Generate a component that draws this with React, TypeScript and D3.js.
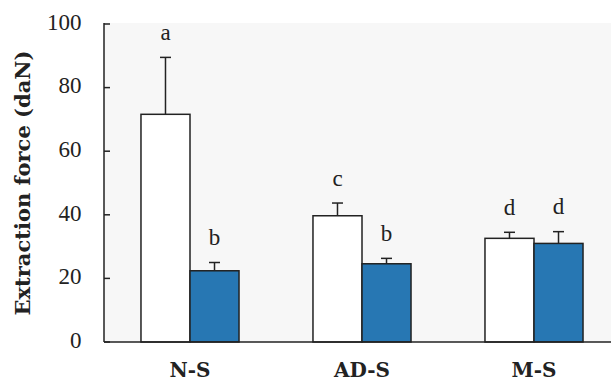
import React, { useRef, useEffect } from 'react';
import * as d3 from 'd3';

const categories = ['N-S', 'AD-S', 'M-S'];
const series = ['white', 'blue'];
const meanWhite = [71.6, 39.7, 32.6];
const meanBlue = [22.4, 24.6, 31.0];
const errWhite = [17.9, 4.0, 1.9];
const errBlue = [2.6, 1.7, 3.7];
const lettersWhite = ['a', 'c', 'd'];
const lettersBlue = ['b', 'b', 'd'];
const yTicks = [0, 20, 40, 60, 80, 100];

const serif = '"Liberation Serif", "DejaVu Serif", serif';
const serifBold = '"DejaVu Serif", "Liberation Serif", serif';

export default function App() {
  const ref = useRef<SVGSVGElement>(null);

  useEffect(() => {
    const svg = d3.select(ref.current);
    svg.selectAll('*').remove();

    const width = 611;
    const height = 381;
    const left = 104;
    const top = 24;
    const bottom = 342;

    svg.attr('width', width).attr('height', height);

    const y = d3.scaleLinear().domain([0, 100]).range([bottom, top]);
    const x0 = d3.scaleBand<string>()
      .domain(categories)
      .range([left, 620])
      .paddingInner(0.43)
      .paddingOuter(0.215);
    const x1 = d3.scaleBand<string>().domain(series).range([0, x0.bandwidth()]);
    const color = d3.scaleOrdinal<string, string>().domain(series).range(['#ffffff', '#2777b3']);

    // plot background
    svg.append('rect')
      .attr('x', left)
      .attr('y', top - 1)
      .attr('width', width - left)
      .attr('height', bottom - top + 1)
      .attr('fill', '#f7f7f7');

    const rows = categories.flatMap((c, i) => [
      { cat: c, s: 'white', v: meanWhite[i], e: errWhite[i], l: lettersWhite[i] },
      { cat: c, s: 'blue', v: meanBlue[i], e: errBlue[i], l: lettersBlue[i] },
    ]);

    const g = svg.append('g');
    const cx = (d: any) => (x0(d.cat) as number) + (x1(d.s) as number) + x1.bandwidth() / 2;

    // error bars (drawn behind bars)
    g.selectAll('line.err')
      .data(rows)
      .join('line')
        .attr('x1', cx)
        .attr('x2', cx)
        .attr('y1', d => y(d.v))
        .attr('y2', d => y(d.v + d.e))
        .attr('stroke', '#222')
        .attr('stroke-width', 1.5);
    g.selectAll('line.cap')
      .data(rows)
      .join('line')
        .attr('x1', d => cx(d) - 5.5)
        .attr('x2', d => cx(d) + 5.5)
        .attr('y1', d => y(d.v + d.e))
        .attr('y2', d => y(d.v + d.e))
        .attr('stroke', '#222')
        .attr('stroke-width', 1.5);

    g.selectAll('rect.bar')
      .data(rows)
      .join('rect')
        .attr('x', d => (x0(d.cat) as number) + (x1(d.s) as number))
        .attr('y', d => y(d.v))
        .attr('width', x1.bandwidth())
        .attr('height', d => bottom - y(d.v))
        .attr('fill', d => color(d.s))
        .attr('stroke', '#222')
        .attr('stroke-width', 1.5);

    g.selectAll('text.letter')
      .data(rows)
      .join('text')
        .attr('x', cx)
        .attr('y', d => y(d.v + d.e) - 17.5)
        .attr('text-anchor', 'middle')
        .style('font-family', serif)
        .style('font-size', '23px')
        .attr('fill', '#222')
        .text(d => d.l);

    // axes
    svg.append('line')
      .attr('x1', left).attr('x2', left)
      .attr('y1', top - 1).attr('y2', bottom)
      .attr('stroke', '#222').attr('stroke-width', 1.5);
    svg.append('line')
      .attr('x1', left).attr('x2', width)
      .attr('y1', bottom).attr('y2', bottom)
      .attr('stroke', '#222').attr('stroke-width', 1.5);

    const ticks = svg.append('g');
    ticks.selectAll('line')
      .data(yTicks)
      .join('line')
        .attr('x1', left).attr('x2', left + 6)
        .attr('y1', d => y(d)).attr('y2', d => y(d))
        .attr('stroke', '#222').attr('stroke-width', 1.5);
    ticks.selectAll('text')
      .data(yTicks)
      .join('text')
        .attr('x', 81.5)
        .attr('y', d => y(d))
        .attr('dy', '0.25em')
        .attr('text-anchor', 'end')
        .style('font-family', serif)
        .style('font-size', '23px')
        .attr('fill', '#222')
        .text(d => d);

    svg.append('g').selectAll('text')
      .data(categories)
      .join('text')
        .attr('x', d => (x0(d) as number) + x0.bandwidth() / 2)
        .attr('y', 377)
        .attr('text-anchor', 'middle')
        .style('font-family', serifBold)
        .style('font-size', '20px')
        .style('font-weight', 'bold')
        .attr('fill', '#222')
        .text(d => d);

    svg.append('text')
      .attr('transform', `translate(30,${(top + bottom) / 2}) rotate(-90)`)
      .attr('text-anchor', 'middle')
      .style('font-family', serifBold)
      .style('font-size', '21px')
      .style('font-weight', 'bold')
      .attr('fill', '#222')
      .text('Extraction force (daN)');
  }, []);

  return <svg ref={ref} style={{ position: 'absolute', left: 0, top: 0 }} />;
}
